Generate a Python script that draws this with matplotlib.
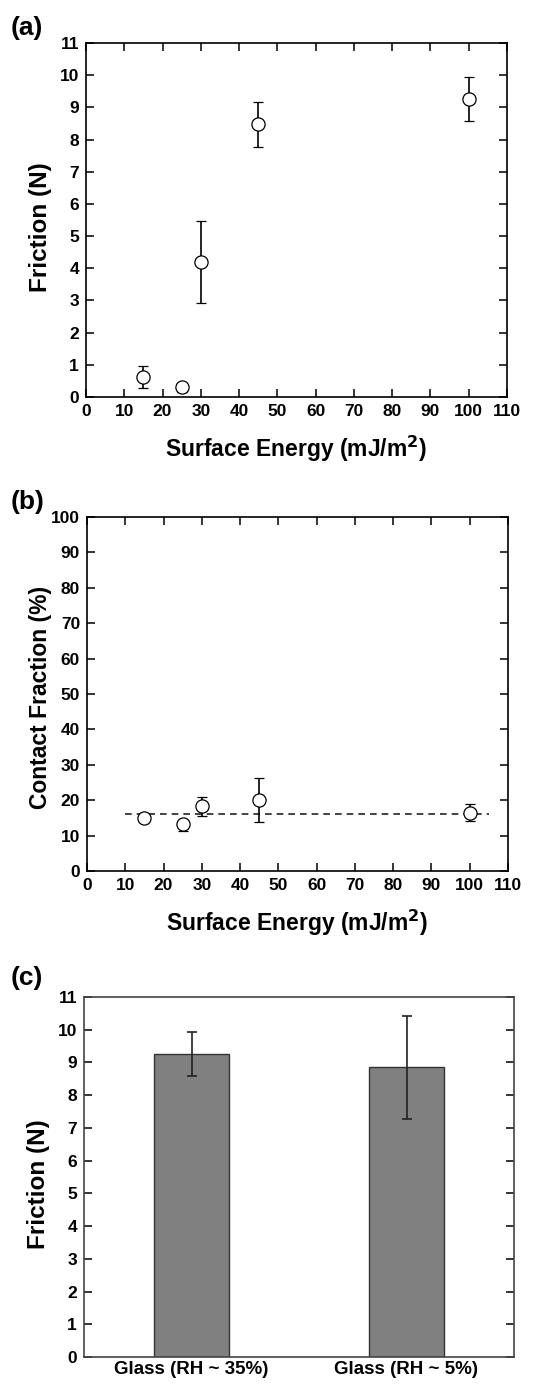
import numpy as np
import matplotlib
matplotlib.use('Agg')
import matplotlib.pyplot as plt

plt.rcParams['font.family'] = ['Liberation Sans', 'DejaVu Sans']
plt.rcParams['font.weight'] = 'bold'
plt.rcParams['mathtext.default'] = 'bf'

# Data ------------------------------------------------------------------------
energy = [15, 25, 30, 45, 100]            # surface energy (mJ/m^2)
friction = [0.62, 0.30, 4.20, 8.47, 9.25]  # friction (N)
friction_err = [0.34, 0.15, 1.28, 0.70, 0.68]

contact = [15.0, 13.3, 18.3, 20.0, 16.5]   # contact fraction (%)
contact_err_lo = [1.0, 2.0, 2.7, 6.2, 2.5]
contact_err_hi = [1.0, 1.0, 2.7, 6.3, 2.5]
contact_mean = 16.0
mean_span = [10, 105]

glass_labels = ['Glass (RH ~ 35%)', 'Glass (RH ~ 5%)']
glass_friction = [9.25, 8.85]
glass_err = [0.67, 1.57]

# Figure ----------------------------------------------------------------------
W, H = 545, 1385
fig = plt.figure(figsize=(W / 100, H / 100), dpi=100)

def axes_px(left, right, top, bottom):
    return fig.add_axes([left / W, 1 - bottom / H, (right - left) / W, (bottom - top) / H])

def style(ax, top=True):
    for s in ax.spines.values():
        s.set_linewidth(1.2)
    ax.tick_params(direction='in', length=6, width=1.1, top=top, right=True,
                   labelsize=12.5, pad=5)
    for lab in ax.get_xticklabels() + ax.get_yticklabels():
        lab.set_fontweight('bold')

lab_kw = dict(fontsize=16.5, fontweight='bold')
pt_kw = dict(fmt='o', ms=9.5, mfc='white', mec='black', mew=0.9, ecolor='black',
             elinewidth=1.2, capsize=3.5, capthick=1.2)
letter_kw = dict(fontsize=19, fontweight='bold', va='center')

# (a) friction vs surface energy
ax1 = axes_px(86, 507, 43, 397)
ax1.errorbar(energy, friction, yerr=friction_err, **pt_kw)
ax1.set_xlim(0, 110)
ax1.set_ylim(0, 11)
ax1.set_xticks(np.arange(0, 111, 10))
ax1.set_yticks(np.arange(0, 12, 1))
style(ax1)
ax1.set_xlabel('Surface Energy (mJ/m$^{2}$)', va='center', **lab_kw)
ax1.xaxis.set_label_coords(0.5, -(449 - 397) / 354)
ax1.set_ylabel('Friction (N)', va='center', fontsize=17.5, fontweight='bold')
ax1.yaxis.set_label_coords((41 - 86) / 421, 0.48)
fig.text(11 / W, 1 - 28 / H, '(a)', **letter_kw)

# (b) contact fraction vs surface energy
ax2 = axes_px(87, 508, 517, 871)
ax2.plot(mean_span, [contact_mean, contact_mean], ls=(0, (4, 3)), color='#222222', lw=1.2)
ax2.errorbar(energy, contact, yerr=[contact_err_lo, contact_err_hi], **pt_kw)
ax2.set_xlim(0, 110)
ax2.set_ylim(0, 100)
ax2.set_xticks(np.arange(0, 111, 10))
ax2.set_yticks(np.arange(0, 101, 10))
style(ax2)
ax2.set_xlabel('Surface Energy (mJ/m$^{2}$)', va='center', **lab_kw)
ax2.xaxis.set_label_coords(0.5, -(923 - 871) / 354)
ax2.set_ylabel('Contact Fraction (%)', va='center', **lab_kw)
ax2.yaxis.set_label_coords((41 - 87) / 421, 0.49)
fig.text(11 / W, 1 - 502 / H, '(b)', **letter_kw)

# (c) glass friction at two humidities
ax3 = axes_px(84, 514, 997, 1357)
xpos = np.arange(len(glass_labels))
ax3.bar(xpos, glass_friction, width=0.35, color='#808080', edgecolor='#333333', lw=1.0)
ax3.errorbar(xpos, glass_friction, yerr=glass_err, fmt='none', ecolor='#222222',
             elinewidth=1.2, capsize=3.5, capthick=1.2)
ax3.set_xlim(-0.5, 1.5)
ax3.set_ylim(0, 11)
ax3.set_xticks(xpos)
ax3.set_xticklabels(glass_labels)
ax3.set_yticks(np.arange(0, 12, 1))
style(ax3, top=False)
ax3.tick_params(axis='x', length=0, pad=3, labelsize=13.5)
for s in ax3.spines.values():
    s.set_color('#444444')
ax3.set_ylabel('Friction (N)', va='center', fontsize=17.5, fontweight='bold')
ax3.yaxis.set_label_coords((38 - 84) / 430, 0.48)
fig.text(11 / W, 1 - 978 / H, '(c)', **letter_kw)

fig.savefig('out.png', dpi=100, facecolor='white')
